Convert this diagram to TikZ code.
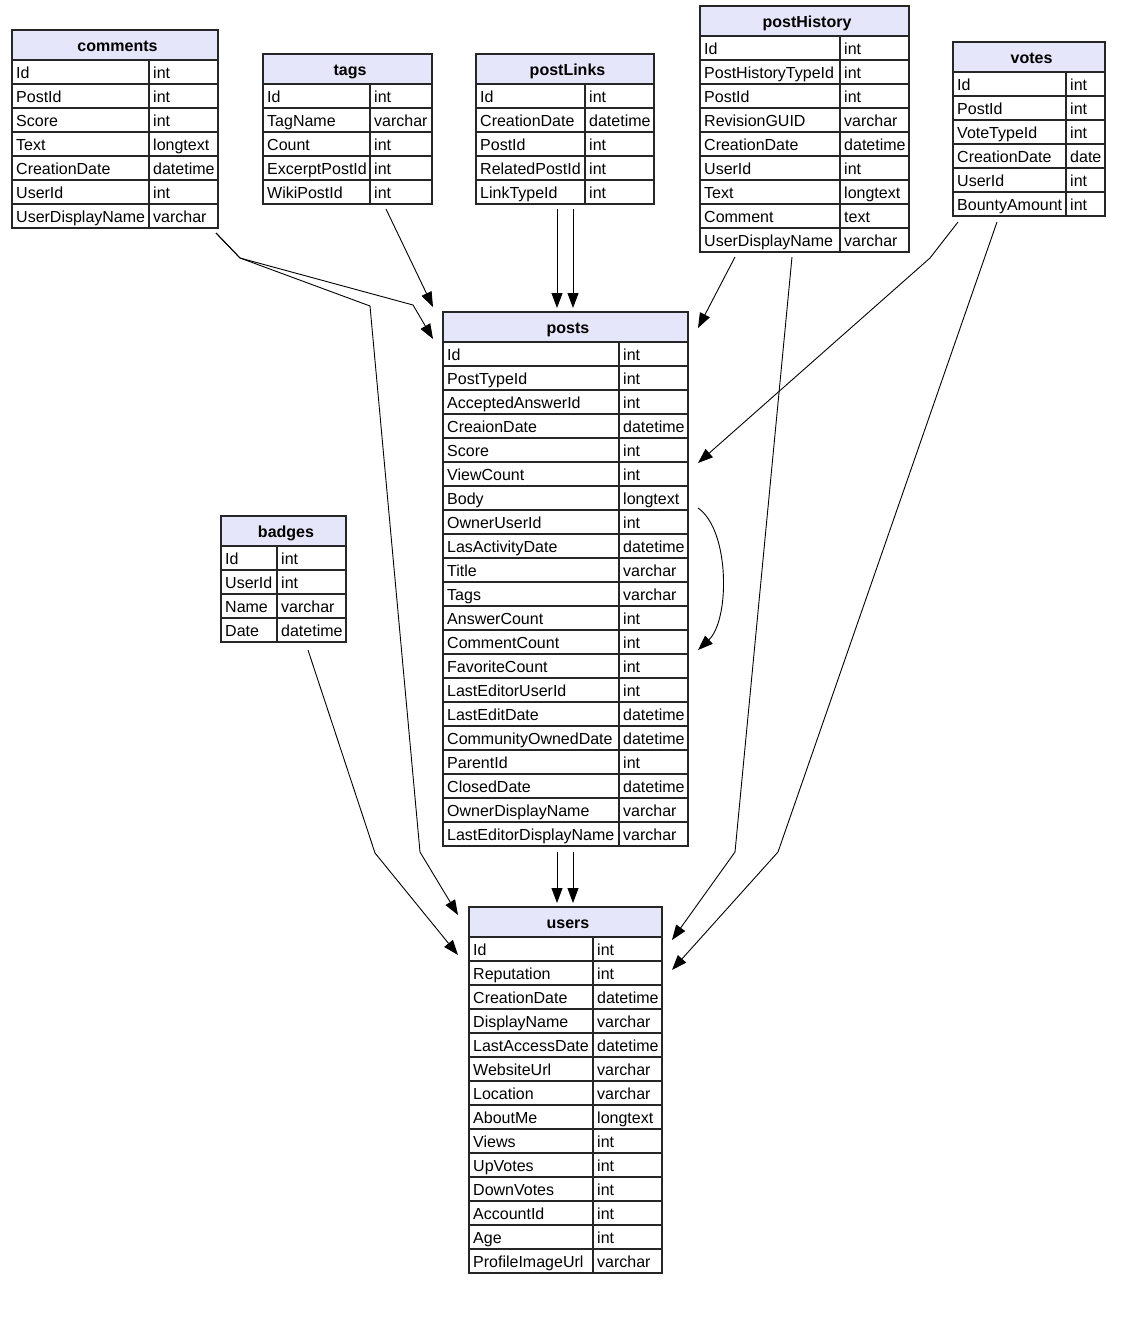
\documentclass[tikz,border=0pt]{standalone}
\usepackage{fontspec}
\setmainfont{Liberation Sans}
\usetikzlibrary{arrows.meta}
\definecolor{hdrcol}{RGB}{230,230,250}
\tikzset{
 tblline/.style={draw=black!85, line width=1.1pt},
 hdrtext/.style={font=\fontsize{16}{19}\selectfont\bfseries, anchor=base, inner sep=0pt},
 celltext/.style={font=\fontsize{16}{19}\selectfont, anchor=base west, inner sep=0pt},
 fkedge/.style={draw=black, line width=0.9pt, -{Triangle[length=15pt,width=11pt]}},
}
\newcommand{\dbtable}[8]{%
  \fill[hdrcol] (#2,#5) rectangle (#4,#5+30);
  \node[hdrtext] (#1-h) at ({(#2+#4)/2+2.5},#5+21) {#7};
  \foreach [count=\ri] \fk/\fv in {#8} {
    \node[celltext] (#1-k\ri) at (#2+4,#5+30+24*\ri-5.5) {\fk};
    \node[celltext] (#1-v\ri) at (#3+4,#5+30+24*\ri-5.5) {\fv};
    \draw[tblline] (#2,#5+30+24*\ri) -- (#4,#5+30+24*\ri);
  }
  \draw[tblline] (#2,#5+30) -- (#4,#5+30);
  \draw[tblline] (#3,#5+30) -- (#3,#5+30+24*#6);
  \draw[tblline] (#2,#5) rectangle (#4,#5+30+24*#6);
}
\begin{document}
\begin{tikzpicture}[x=1pt,y=-1pt]
\useasboundingbox (0,0) rectangle (1138,1318);
\fill[white] (0,0) rectangle (1138,1318);

\dbtable{comments}{12}{149}{218}{30}{7}{comments}{Id/int, PostId/int, Score/int, Text/longtext, CreationDate/datetime, UserId/int, UserDisplayName/varchar}
\dbtable{tags}{263}{370}{432}{54}{5}{tags}{Id/int, TagName/varchar, Count/int, ExcerptPostId/int, WikiPostId/int}
\dbtable{postLinks}{476}{585}{654}{54}{5}{postLinks}{Id/int, CreationDate/datetime, PostId/int, RelatedPostId/int, LinkTypeId/int}
\dbtable{postHistory}{700}{840}{909}{6}{9}{postHistory}{Id/int, PostHistoryTypeId/int, PostId/int, RevisionGUID/varchar, CreationDate/datetime, UserId/int, Text/longtext, Comment/text, UserDisplayName/varchar}
\dbtable{votes}{953}{1066}{1105}{42}{6}{votes}{Id/int, PostId/int, VoteTypeId/int, CreationDate/date, UserId/int, BountyAmount/int}
\dbtable{posts}{443}{619}{688}{312}{21}{posts}{Id/int, PostTypeId/int, AcceptedAnswerId/int, CreaionDate/datetime, Score/int, ViewCount/int, Body/longtext, OwnerUserId/int, LasActivityDate/datetime, Title/varchar, Tags/varchar, AnswerCount/int, CommentCount/int, FavoriteCount/int, LastEditorUserId/int, LastEditDate/datetime, CommunityOwnedDate/datetime, ParentId/int, ClosedDate/datetime, OwnerDisplayName/varchar, LastEditorDisplayName/varchar}
\dbtable{badges}{221}{277}{346}{516}{4}{badges}{Id/int, UserId/int, Name/varchar, Date/datetime}
\dbtable{users}{469}{593}{662}{907}{14}{users}{Id/int, Reputation/int, CreationDate/datetime, DisplayName/varchar, LastAccessDate/datetime, WebsiteUrl/varchar, Location/varchar, AboutMe/longtext, Views/int, UpVotes/int, DownVotes/int, AccountId/int, Age/int, ProfileImageUrl/varchar}

% connector end points
\coordinate (cm-out) at (216,233);
\coordinate (cm-b) at (240,258);
\coordinate (cm-p1) at (413,305);
\coordinate (cm-u1) at (370,306);
\coordinate (cm-u2) at (420,852);
\coordinate (po-in1) at (433,339);
\coordinate (po-in2) at (433,307);
\coordinate (tg-out) at (386,209);
\coordinate (pl-out1) at (557,209);
\coordinate (pl-out2) at (573,209);
\coordinate (po-in3) at (557,308);
\coordinate (po-in4) at (573,308);
\coordinate (ph-out1) at (735,257);
\coordinate (po-in5) at (698,328);
\coordinate (ph-out2) at (792,257);
\coordinate (ph-b) at (735,852);
\coordinate (us-in1) at (672,940);
\coordinate (vo-out1) at (958,222);
\coordinate (vo-b1) at (930,258);
\coordinate (po-in6) at (698,463);
\coordinate (vo-out2) at (997,222);
\coordinate (vo-b2) at (778,852);
\coordinate (us-in2) at (672,970);
\coordinate (po-self1) at (698,508);
\coordinate (po-self2) at (698,650);
\coordinate (po-out1) at (557,852);
\coordinate (po-out2) at (573,852);
\coordinate (us-in3) at (557,903);
\coordinate (us-in4) at (573,903);
\coordinate (bd-out) at (308,650);
\coordinate (bd-b) at (375,853);
\coordinate (us-in5) at (458,955);
\coordinate (us-in6) at (458,915);

\draw[fkedge] (cm-out) -- (cm-b) -- (cm-p1) -- (po-in1);
\draw[fkedge] (cm-out) -- (cm-b) -- (cm-u1) -- (cm-u2) -- (us-in6);
\draw[fkedge] (tg-out) -- (po-in2);
\draw[fkedge] (pl-out1) -- (po-in3);
\draw[fkedge] (pl-out2) -- (po-in4);
\draw[fkedge] (ph-out1) -- (po-in5);
\draw[fkedge] (ph-out2) -- (ph-b) -- (us-in1);
\draw[fkedge] (vo-out1) -- (vo-b1) -- (po-in6);
\draw[fkedge] (vo-out2) -- (vo-b2) -- (us-in2);
\draw[fkedge] (po-self1) .. controls (730,530) and (730,620) .. (po-self2);
\draw[fkedge] (po-out1) -- (us-in3);
\draw[fkedge] (po-out2) -- (us-in4);
\draw[fkedge] (bd-out) -- (bd-b) -- (us-in5);
\end{tikzpicture}
\end{document}
